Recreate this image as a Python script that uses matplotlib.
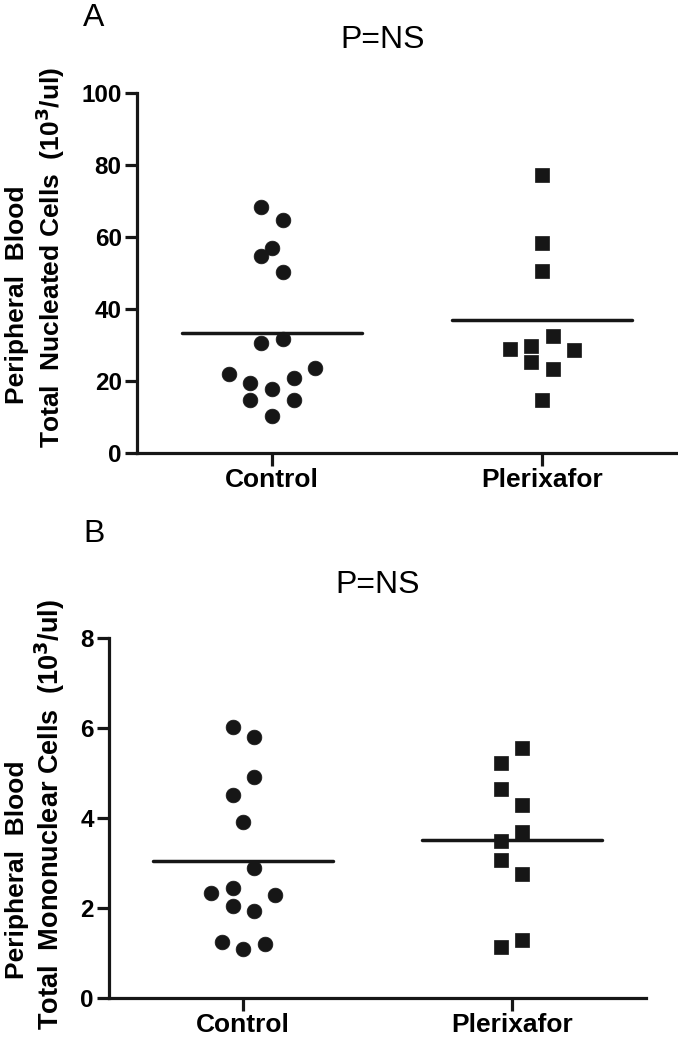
import numpy as np
import matplotlib
matplotlib.use('Agg')
import matplotlib.pyplot as plt

plt.rcParams['font.family'] = ['Liberation Sans', 'DejaVu Sans']

groups = ['Control', 'Plerixafor']

# panel A - total nucleated cells (10^3/ul)
ctrl_a = [68.4, 64.7, 56.8, 54.7, 50.4, 31.7, 30.5, 23.7, 21.9, 20.7, 19.5, 17.9, 14.8, 14.6, 10.3]
ctrl_a_slot = [-1, 1, 0, -1, 1, 1, -1, 4, -4, 2, -2, 0, -2, 2, 0]
plx_a = [77.2, 58.2, 50.6, 32.6, 29.7, 28.9, 28.6, 25.3, 23.3, 14.7]
plx_a_slot = [0, 0, 0, 1, -1, -3, 3, -1, 1, 0]

# panel B - total mononuclear cells (10^3/ul)
ctrl_b = [6.02, 5.79, 4.90, 4.51, 3.92, 2.88, 2.45, 2.34, 2.29, 2.04, 1.94, 1.25, 1.10, 1.20]
ctrl_b_slot = [-1, 1, 1, -1, 0, 1, -1, -3, 3, -1, 1, -2, 0, 2]
plx_b = [5.55, 5.23, 4.64, 4.30, 3.69, 3.50, 3.07, 2.76, 1.29, 1.13]
plx_b_slot = [1, -1, -1, 1, 1, -1, -1, 1, 1, -1]

yticks_a = [0, 20, 40, 60, 80, 100]
yticks_b = [0, 2, 4, 6, 8]

ink = '#161616'
step = 0.04

fig = plt.figure(figsize=(6.78, 10.5), dpi=100)
axA = fig.add_axes([0.2021, 0.5686, 0.7965, 0.3429])
axB = fig.add_axes([0.1608, 0.0495, 0.7920, 0.3429])


def dot_panel(ax, ctrl, cslot, plx, pslot, ymax, yticks):
    cx = 0 + np.array(cslot) * step
    px = 1 + np.array(pslot) * step
    ax.plot(cx, ctrl, 'o', ms=10.6, color=ink, mec=ink, mew=0.5, clip_on=False)
    ax.plot(px, plx, 's', ms=10.4, color=ink, mec=ink, mew=0.5, clip_on=False)
    for i, vals in enumerate([ctrl, plx]):
        m = np.mean(vals)
        ax.plot([i - 0.335, i + 0.335], [m, m], color=ink, lw=2.5, solid_capstyle='round')
    ax.set_xlim(-0.5, 1.5)
    ax.set_ylim(0, ymax)
    ax.set_xticks([0, 1])
    ax.set_xticklabels(groups, fontsize=19, fontweight='bold')
    ax.set_yticks(yticks)
    ax.set_yticklabels([str(t) for t in yticks], fontsize=17.5, fontweight='bold')
    for s in ['top', 'right']:
        ax.spines[s].set_visible(False)
    for s in ['left', 'bottom']:
        ax.spines[s].set_linewidth(2.3)
        ax.spines[s].set_color(ink)
    ax.tick_params(width=2.3, length=9, color=ink, pad=2)


dot_panel(axA, ctrl_a, ctrl_a_slot, plx_a, plx_a_slot, 100, yticks_a)
dot_panel(axB, ctrl_b, ctrl_b_slot, plx_b, plx_b_slot, 8, yticks_b)

# panel letters and p-values
fig.text(93.5 / 678, 1 - 18.5 / 1050, 'A', fontsize=23, ha='center', va='center')
fig.text(383 / 678, 1 - 40 / 1050, 'P=NS', fontsize=23, ha='center', va='center')
fig.text(94 / 678, 1 - 534.5 / 1050, 'B', fontsize=23, ha='center', va='center')
fig.text(377.5 / 678, 1 - 585 / 1050, 'P=NS', fontsize=23, ha='center', va='center')

# two-line y labels
lab = dict(fontsize=19, fontweight='bold', rotation=90, ha='center', va='center')
fig.text(17 / 678, 1 - 295 / 1050, 'Peripheral  Blood', **lab)
fig.text(50 / 678, 1 - 258 / 1050, 'Total  Nucleated Cells  (10$^{\\mathbf{3}}$/ul)', **lab)
fig.text(17 / 678, 1 - 870 / 1050, 'Peripheral  Blood', **lab)
fig.text(50 / 678, 1 - 815 / 1050, 'Total  Mononuclear Cells  (10$^{\\mathbf{3}}$/ul)',
         fontsize=19.5, fontweight='bold', rotation=90, ha='center', va='center')

fig.savefig('out.png', dpi=100)
